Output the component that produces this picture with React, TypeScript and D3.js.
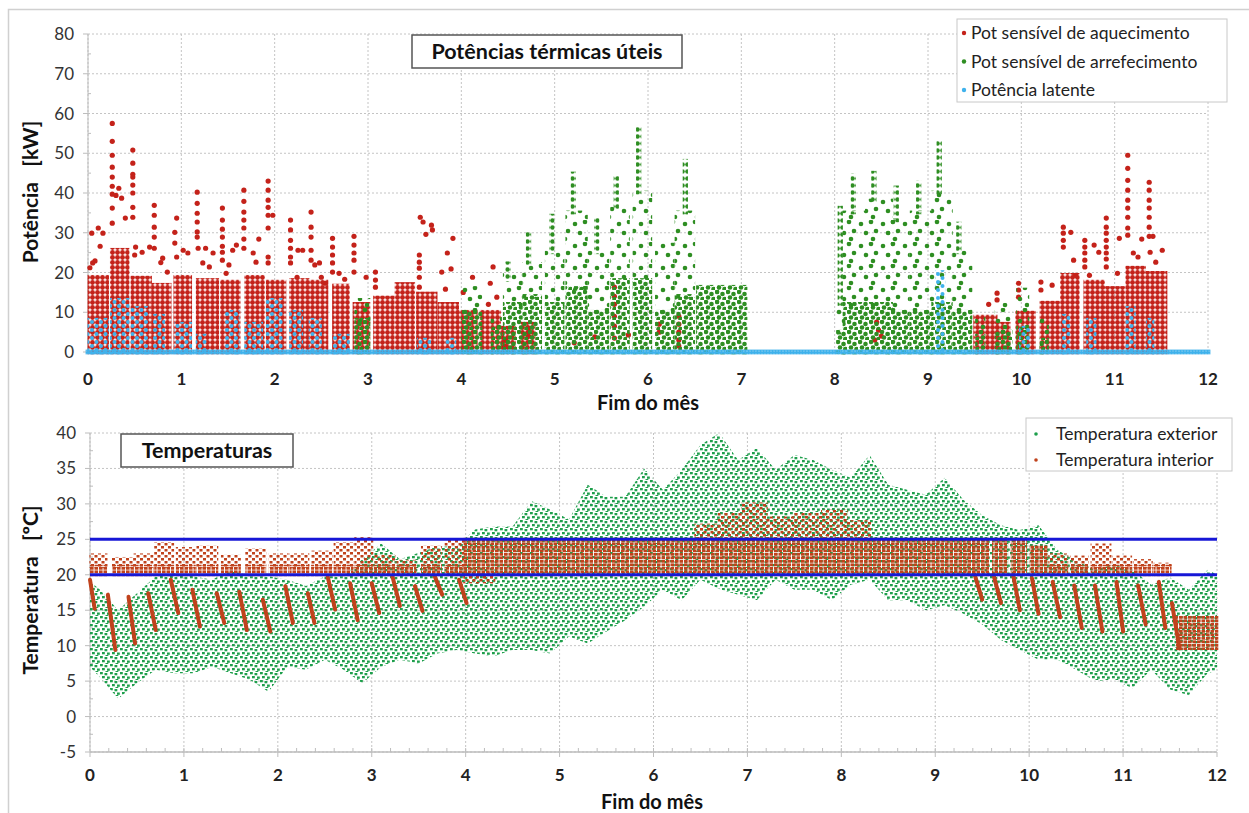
import React from 'react';
import * as d3 from 'd3';

// ---------- shared axes ----------
const monthTicks = [0, 1, 2, 3, 4, 5, 6, 7, 8, 9, 10, 11, 12];
const powerTicks = [0, 10, 20, 30, 40, 50, 60, 70, 80];
const tempTicks = [-5, 0, 5, 10, 15, 20, 25, 30, 35, 40];

// ---------- top chart: potências (kW) ----------
const powerSeries = ['Pot sensível de aquecimento', 'Pot sensível de arrefecimento', 'Potência latente'];

// dense heating clusters: [month start, month end, top kW]
const heatBands = [
  [0.02, 0.2, 18.8], [0.26, 0.42, 25.6], [0.48, 0.66, 18.6], [0.71, 0.87, 16.8], [0.94, 1.09, 18.8],
  [1.18, 1.38, 18], [1.44, 1.61, 17.6], [1.7, 1.87, 18.8], [1.93, 2.1, 17.6], [2.18, 2.35, 18],
  [2.39, 2.55, 17.6], [2.64, 2.78, 16.6], [2.86, 3.0, 12], [3.08, 3.26, 13.6], [3.31, 3.48, 17],
  [3.54, 3.72, 14.6], [3.77, 3.95, 12], [3.99, 4.15, 10], [4.22, 4.4, 10], [4.45, 4.56, 6], [4.66, 4.77, 7],
  [9.51, 9.72, 8.8], [9.74, 9.86, 7], [9.96, 10.13, 9.8], [10.22, 10.39, 12.3], [10.44, 10.6, 19.3],
  [10.69, 10.87, 17.6], [10.91, 11.09, 16], [11.14, 11.31, 21.1], [11.36, 11.54, 19.8],
];

// isolated heating points (start-up peaks etc.)
const heatPeaks = [
  { x: 0.02, ys: [21.2] }, { x: 0.04, ys: [29.9] }, { x: 0.05, ys: [22.4] }, { x: 0.075, ys: [22.9] },
  { x: 0.11, ys: [31.2] }, { x: 0.13, ys: [26.6] }, { x: 0.16, ys: [29.9] },
  { x: 0.26, ys: [57.5, 53, 49.5, 46.5, 44, 41.7, 39.7, 36.2, 32.4] }, { x: 0.3, ys: [39.4] },
  { x: 0.33, ys: [41.2] }, { x: 0.36, ys: [38.7] }, { x: 0.4, ys: [33.7] },
  { x: 0.48, ys: [50.8, 47.5, 44.7, 44, 42, 40, 36.4, 33.9] }, { x: 0.5, ys: [24.4] }, { x: 0.51, ys: [26.4] },
  { x: 0.58, ys: [25.1] }, { x: 0.66, ys: [26.4] },
  { x: 0.71, ys: [36.9, 34.4, 31.4, 28.9, 26.1] }, { x: 0.78, ys: [22.5] }, { x: 0.8, ys: [23.6] }, { x: 0.85, ys: [20.1] },
  { x: 0.93, ys: [30.1, 27.4] }, { x: 0.95, ys: [33.7, 23.9] }, { x: 1.02, ys: [25.6] }, { x: 1.07, ys: [24.9] },
  { x: 1.17, ys: [40.2, 37.4, 34.9, 32.7, 30.2, 28.9] }, { x: 1.18, ys: [26.1] }, { x: 1.23, ys: [22.4] },
  { x: 1.26, ys: [26.1] }, { x: 1.3, ys: [21.4] }, { x: 1.34, ys: [24.9] },
  { x: 1.44, ys: [36.2, 33.2, 30.9, 28.9, 26.6, 25.1, 23.1] }, { x: 1.48, ys: [19.8] }, { x: 1.51, ys: [21.9] },
  { x: 1.55, ys: [25.6] }, { x: 1.59, ys: [26.9] },
  { x: 1.67, ys: [40.7, 37.9, 35.2, 33.2, 31.2, 28.4, 26.1] }, { x: 1.77, ys: [24.9] }, { x: 1.8, ys: [22.6] }, { x: 1.83, ys: [28.4] },
  { x: 1.93, ys: [43, 40.7, 38.2, 36.4, 34.4, 31.2, 23.9, 22.4] }, { x: 1.98, ys: [34.4] },
  { x: 2.17, ys: [33.2, 30.7, 28.1, 26.1, 23.9, 22.4] }, { x: 2.24, ys: [18.8] }, { x: 2.25, ys: [25.6] }, { x: 2.3, ys: [25.6] },
  { x: 2.39, ys: [35.2, 31.4, 28.9, 25.6, 23.1] }, { x: 2.43, ys: [21.9] }, { x: 2.48, ys: [22.4] }, { x: 2.5, ys: [18.8] }, { x: 2.54, ys: [17.3] },
  { x: 2.62, ys: [28.6, 26.4, 24.4, 22.4, 20.1] }, { x: 2.69, ys: [19.8] }, { x: 2.75, ys: [18.3] },
  { x: 2.85, ys: [29.1, 26.9, 24.9, 23.1, 20.1] }, { x: 2.98, ys: [18.8] },
  { x: 3.08, ys: [20.1, 18.1, 16.3] },
  { x: 3.55, ys: [24.4, 22.6, 21.1, 18.8, 16.3] }, { x: 3.56, ys: [33.9] }, { x: 3.59, ys: [32.7] },
  { x: 3.62, ys: [29.6] }, { x: 3.68, ys: [31.9] }, { x: 3.69, ys: [30.7] },
  { x: 3.79, ys: [20.1] }, { x: 3.83, ys: [15.8] }, { x: 3.85, ys: [24.9] }, { x: 3.89, ys: [20.9] }, { x: 3.91, ys: [28.6] },
  { x: 4.02, ys: [15] }, { x: 4.12, ys: [18.8] }, { x: 4.29, ys: [12] }, { x: 4.31, ys: [17.3] }, { x: 4.34, ys: [21.4] }, { x: 4.38, ys: [13.8] },
  { x: 4.47, ys: [3, 1.5] }, { x: 4.72, ys: [6, 4] }, { x: 5.21, ys: [2.3] }, { x: 5.43, ys: [3.8] },
  { x: 5.64, ys: [16.3, 14, 12, 9, 6.5, 3.5] }, { x: 5.79, ys: [4.3] }, { x: 6.12, ys: [7, 5] },
  { x: 6.33, ys: [9, 7, 5, 3, 1.5] },
  { x: 8.43, ys: [3] }, { x: 8.45, ys: [7.5] }, { x: 8.47, ys: [5.5] }, { x: 8.5, ys: [4] },
  { x: 9.65, ys: [12] }, { x: 9.74, ys: [14.8, 13.1] }, { x: 9.97, ys: [17.3, 15.6, 13.8] },
  { x: 10.21, ys: [17.6, 15.6] }, { x: 10.33, ys: [16.8] },
  { x: 10.45, ys: [31.4, 29.9, 28.1, 26.4] }, { x: 10.53, ys: [30.1] }, { x: 10.56, ys: [23.1] }, { x: 10.58, ys: [19.3] },
  { x: 10.68, ys: [28.1, 26.4, 24.9, 23.1, 21.4] }, { x: 10.73, ys: [19.3] }, { x: 10.78, ys: [26.9] }, { x: 10.83, ys: [25.1] },
  { x: 10.91, ys: [33.7, 31.4, 29.9, 28.1, 26.4, 24.9, 23.4, 21.4] }, { x: 11.03, ys: [19.8] }, { x: 11.05, ys: [28.6] },
  { x: 11.14, ys: [49.5, 46.2, 43.2, 40.7, 38.2, 36.2, 33.9, 31.2, 29.4] }, { x: 11.2, ys: [24.9] },
  { x: 11.25, ys: [23.9] }, { x: 11.29, ys: [28.4] },
  { x: 11.37, ys: [42.7, 40.7, 38.2, 36.2, 33.9, 31.4, 29.1] }, { x: 11.38, ys: [25.1] }, { x: 11.41, ys: [29.1] },
  { x: 11.44, ys: [22.6] }, { x: 11.51, ys: [25.6] },
];

// cooling clusters: [month start, month end, dense top kW, scattered top kW]
const coolBands = [
  [2.88, 3.0, 8, 13], [4.02, 4.2, 10, 16], [4.34, 4.41, 6, 9], [4.47, 4.63, 12, 20], [4.68, 4.84, 14, 22],
  [4.92, 5.08, 12, 25], [5.14, 5.33, 16, 35], [5.38, 5.56, 10, 25], [5.62, 5.78, 18, 36],
  [5.86, 6.02, 18, 40], [6.1, 6.26, 10, 26.9], [6.31, 6.48, 14, 35], [6.54, 6.74, 16.3, 16.3],
  [6.77, 7.04, 16.3, 16.3], [8.04, 8.09, 5, 12], [8.11, 8.31, 12, 35], [8.35, 8.6, 12, 38],
  [8.6, 8.78, 10, 33], [8.83, 9.02, 10, 35], [9.06, 9.24, 12, 40], [9.29, 9.45, 10, 25],
  [9.53, 9.59, 4, 8.8], [9.74, 9.88, 5, 11.8], [9.97, 10.06, 6, 15.6], [10.22, 10.27, 3, 8.8],
];
// cooling peak streaks: [month, from kW, to kW]
const coolPeaks = [
  [4.5, 18, 22.4], [4.72, 22, 29.9], [4.97, 25, 34.4], [5.2, 35, 45], [5.45, 25, 33.7], [5.66, 36, 44.2],
  [5.9, 40, 56.5], [6.4, 35, 48.2], [8.06, 12, 36.4], [8.2, 35, 44.5], [8.42, 38, 45.2], [8.66, 33, 41.5],
  [8.9, 35, 42.7], [9.12, 40, 52.8], [9.33, 25, 32.4],
];

// latent clusters: [month start, month end, top kW]
const latentBands = [
  [0.02, 0.2, 8], [0.26, 0.42, 13], [0.48, 0.62, 11], [0.72, 0.8, 9], [0.95, 1.09, 7], [1.18, 1.25, 4],
  [1.49, 1.6, 10], [1.7, 1.85, 7], [1.93, 2.06, 13], [2.18, 2.28, 10], [2.39, 2.48, 8], [2.64, 2.78, 4],
  [3.55, 3.65, 3], [3.85, 3.92, 3], [9.1, 9.16, 20], [10.0, 10.07, 6], [10.45, 10.5, 9], [10.72, 10.78, 8],
  [11.14, 11.2, 11], [11.36, 11.4, 8],
];
const latentZero = [0, 12];

// ---------- bottom chart: temperaturas (ºC) ----------
const tempSeries = ['Temperatura exterior', 'Temperatura interior'];
const setpoints = [20, 25];

const extX = [0, 0.1, 0.3, 0.5, 0.7, 0.9, 1.1, 1.3, 1.5, 1.7, 1.9, 2.1, 2.3, 2.5, 2.7, 2.9, 3.1, 3.3, 3.5, 3.7, 3.9,
  4.1, 4.3, 4.5, 4.7, 4.9, 5.1, 5.3, 5.5, 5.7, 5.9, 6.1, 6.3, 6.5, 6.7, 6.9, 7.1, 7.3, 7.5, 7.7, 7.9,
  8.1, 8.3, 8.5, 8.7, 8.9, 9.1, 9.3, 9.5, 9.7, 9.9, 10.1, 10.3, 10.5, 10.7, 10.9, 11.1, 11.3, 11.5, 11.7, 11.9, 12];
const extHigh = [19, 18, 15, 17.4, 19.8, 20.2, 19.8, 19.3, 20.7, 19.8, 19.8, 19.3, 18.4, 19.8, 19.8, 22.2, 24.4, 22.2, 23.1, 24, 24,
  26.4, 26.8, 26.8, 30.4, 29.2, 27.8, 32.7, 31, 31, 35, 32, 34.8, 38.3, 40, 36.2, 37.9, 34.8, 36.9, 36.2, 34.8,
  33.7, 36.9, 32.7, 32, 31.3, 33.7, 30.6, 28.4, 27, 26.3, 27, 23.5, 22, 20.7, 21.4, 20.7, 18.6, 19.6, 17.9, 20.7, 20];
const extLow = [7, 5.6, 2.5, 4.7, 6.6, 6.1, 6.1, 7, 6.1, 5.2, 3.5, 7, 6.6, 8, 6.6, 4.7, 7, 8, 7.5, 8.9, 9.4,
  8.9, 8.5, 9.4, 9.4, 8.9, 11.3, 10.3, 12, 13.6, 15.5, 17.9, 16.4, 19.3, 18, 17.2, 16.4, 19.3, 17.9, 17.9, 16.4,
  18.6, 19.3, 16.4, 16.4, 15, 15.7, 14.5, 13, 10.8, 9.4, 8, 8, 6.6, 5, 5.2, 4, 6.6, 3.8, 3, 6.1, 6.5];

// weekly heated occupation: [month start, month end, peak ºC]
const intWeekBase = [20, 21.2];
const intWeeks = [
  [0.01, 0.17, 22.8], [0.25, 0.45, 22.3], [0.48, 0.66, 22.8], [0.7, 0.88, 24.4], [0.93, 1.11, 23.7],
  [1.15, 1.35, 23.9], [1.41, 1.59, 22.6], [1.67, 1.86, 23.5], [1.92, 2.1, 22.8], [2.14, 2.32, 22.8],
  [2.37, 2.57, 23.2], [2.61, 2.79, 24.4], [2.83, 3.0, 25.1], [3.04, 3.24, 22.6], [3.28, 3.46, 21.9],
  [3.54, 3.73, 23.9], [3.79, 3.97, 24.9],
  [10.22, 10.4, 22.8], [10.45, 10.62, 22.5], [10.67, 10.86, 24.2], [10.9, 11.08, 22.5], [11.12, 11.3, 22],
  [11.34, 11.5, 21.5],
];
// dense interior blocks: [month start, month end, low ºC, high ºC]
const intBlocks = [
  [3.99, 9.4, 20, 25], [9.42, 9.56, 20, 25], [9.62, 9.76, 20, 25], [9.82, 9.96, 20, 25], [10.02, 10.18, 20, 24],
  [11.58, 12.0, 9.6, 14],
];
// sparse interior excursions: [month start, month end, low, high]
const intHigh = [
  [6.45, 6.7, 25, 27], [6.7, 6.95, 25, 28.5], [6.95, 7.2, 25, 30], [7.2, 7.5, 25, 28], [7.5, 7.8, 25, 28.5],
  [7.8, 8.05, 25, 29], [8.05, 8.3, 25, 27.5], [3.99, 4.3, 19, 20],
];
// weekend cool-down: [month, ºC, month, ºC]
const intDrops = [
  [0.0, 19.3, 0.05, 15.2], [0.19, 17.2, 0.27, 9.4], [0.41, 16.9, 0.48, 10.3], [0.62, 17.4, 0.7, 12.2],
  [0.86, 19.3, 0.94, 14.6], [1.09, 17.9, 1.17, 12.7], [1.35, 17.4, 1.43, 13.2], [1.59, 17.6, 1.67, 12.2],
  [1.84, 16.5, 1.92, 12.0], [2.08, 18.4, 2.16, 13.2], [2.32, 17.4, 2.39, 13.2], [2.53, 19.8, 2.61, 15.1],
  [2.77, 18.8, 2.85, 13.6], [3.0, 18.8, 3.08, 14.6], [3.22, 19.8, 3.3, 15.6], [3.46, 18.4, 3.54, 14.9],
  [3.67, 19.8, 3.75, 17.2], [3.93, 19.3, 4.01, 16.0],
  [9.42, 20, 9.5, 16.5], [9.62, 20, 9.7, 16], [9.83, 20, 9.9, 15], [10.03, 19.5, 10.1, 14.5],
  [10.25, 19, 10.33, 14], [10.48, 18.5, 10.56, 12.5], [10.7, 18.5, 10.78, 12], [10.93, 19, 11.0, 12],
  [11.16, 18.5, 11.24, 13], [11.38, 19, 11.45, 12.5], [11.52, 16, 11.6, 9.6],
];

const FONT = 'Lato, "Open Sans", sans-serif';
const RED = '#c4221a';
const GREEN = '#2e8e22';
const CYAN = '#3fb2ec';
const EXT = '#1e9f4c';
const INT = '#c0421c';
const GRID = '#c4c4c4';
const AXIS = '#bdbdbd';

export default function App() {
  const xT = d3.scaleLinear().domain([0, 12]).range([88, 1208]);
  const yT = d3.scaleLinear().domain([0, 80]).range([352, 34]);
  const xB = d3.scaleLinear().domain([0, 12]).range([90, 1217]);
  const yB = d3.scaleLinear().domain([-5, 40]).range([752, 433]);

  const box = (x: any, y: any, x0: number, x1: number, lo: number, hi: number, fill: string, key: string, pad = 2.3) => (
    <rect key={key} x={x(x0) - pad} width={x(x1) - x(x0) + 2 * pad} y={y(hi) - pad}
      height={y(lo) - y(hi) + 2 * pad} fill={fill} />
  );

  const extArea = d3.area<number>()
    .x((d) => xB(d))
    .y0((d, i) => yB(extLow[i]))
    .y1((d, i) => yB(extHigh[i]))(extX) || '';

  const grid = (x: any, y: any, yt: number[]) => (
    <g>
      {yt.map((t) => (
        <line key={'h' + t} x1={x(0)} x2={x(12)} y1={y(t)} y2={y(t)} stroke={GRID} strokeDasharray="2 2" />
      ))}
      {monthTicks.map((m) => (
        <line key={'v' + m} x1={x(m)} x2={x(m)} y1={y(yt[yt.length - 1])} y2={y(yt[0])} stroke={GRID} strokeDasharray="2 2" />
      ))}
    </g>
  );

  const minorT = d3.range(5, 80, 10);
  const minorB = d3.range(-2.5, 40, 5);
  const minorX = d3.range(0.2, 12, 0.2);

  return (
    <div style={{ position: 'absolute', left: 0, top: 0 }}>
      <svg width={1249} height={813} style={{ display: 'block', background: '#fff', fontFamily: FONT }}>
        <defs>
          <pattern id="pHeat" width="5" height="5" patternUnits="userSpaceOnUse">
            <circle cx="2.5" cy="2.5" r="2.45" fill={RED} />
          </pattern>
          <pattern id="pCool" width="22" height="22" patternUnits="userSpaceOnUse">
            <circle cx="3" cy="4" r="2.3" fill={GREEN} />
            <circle cx="13" cy="2" r="2.3" fill={GREEN} />
            <circle cx="18" cy="11" r="2.3" fill={GREEN} />
            <circle cx="8" cy="13" r="2.3" fill={GREEN} />
            <circle cx="15" cy="19" r="2.3" fill={GREEN} />
          </pattern>
          <pattern id="pCoolDense" width="11" height="10" patternUnits="userSpaceOnUse">
            <circle cx="2" cy="2" r="2.3" fill={GREEN} />
            <circle cx="7.5" cy="4" r="2.3" fill={GREEN} />
            <circle cx="4" cy="7.5" r="2.3" fill={GREEN} />
            <circle cx="9.5" cy="9" r="2.3" fill={GREEN} />
          </pattern>
          <pattern id="pCoolStreak" width="5" height="7" patternUnits="userSpaceOnUse">
            <circle cx="2.5" cy="3.5" r="2.3" fill={GREEN} />
          </pattern>
          <pattern id="pLatent" width="9" height="8" patternUnits="userSpaceOnUse">
            <circle cx="2" cy="2" r="2" fill={CYAN} />
            <circle cx="6.5" cy="6" r="2" fill={CYAN} />
          </pattern>
          <pattern id="pLatentDense" width="3" height="3" patternUnits="userSpaceOnUse">
            <circle cx="1.5" cy="1.5" r="1.7" fill={CYAN} />
          </pattern>
          <pattern id="pExt" width="10" height="8" patternUnits="userSpaceOnUse">
            <rect x="0" y="0" width="2.8" height="2.3" fill={EXT} />
            <rect x="4.5" y="1" width="2.8" height="2.3" fill={EXT} />
            <rect x="2" y="4" width="2.8" height="2.3" fill={EXT} />
            <rect x="7" y="4.5" width="2.8" height="2.3" fill={EXT} />
            <rect x="5.5" y="7" width="2.8" height="1" fill={EXT} />
          </pattern>
          <pattern id="pInt" width="4.5" height="3.5" patternUnits="userSpaceOnUse">
            <rect x="0" y="0" width="3.6" height="2.8" fill={INT} />
          </pattern>
          <pattern id="pIntSparse" width="7" height="6" patternUnits="userSpaceOnUse">
            <rect x="0" y="0" width="3" height="2.5" fill={INT} />
            <rect x="3.5" y="3" width="3" height="2.5" fill={INT} />
          </pattern>
        </defs>

        {/* frame */}
        <rect x={8.5} y={9.5} width={1260} height={820} fill="none" stroke="#d0d0d0" strokeWidth={1.5} />

        {/* ===== top chart ===== */}
        {grid(xT, yT, powerTicks)}
        <line x1={xT(0)} x2={xT(0)} y1={yT(80)} y2={yT(0)} stroke={AXIS} />
        {powerTicks.map((t) => (
          <g key={'pt' + t}>
            <line x1={xT(0) - 5} x2={xT(0)} y1={yT(t)} y2={yT(t)} stroke={AXIS} />
            <text x={74} y={yT(t) + 6} textAnchor="end" fontSize={17} fill="#333">{t}</text>
          </g>
        ))}
        {minorT.map((t) => (
          <line key={'pm' + t} x1={xT(0)} x2={xT(0) + 3} y1={yT(t)} y2={yT(t)} stroke={AXIS} />
        ))}
        {monthTicks.map((m) => (
          <text key={'px' + m} x={xT(m)} y={385} textAnchor="middle" fontSize={17} fontWeight={700} fill="#222">{m}</text>
        ))}
        <text x={648} y={410} textAnchor="middle" fontSize={20} fontWeight={700} fill="#111">Fim do mês</text>
        <text transform="translate(38,192) rotate(-90)" textAnchor="middle" fontSize={21} fontWeight={700} fill="#111"
          style={{ whiteSpace: 'pre' }}>
          {'Potência   [kW]'}
        </text>

        <g>
          {heatBands.map((b, i) => box(xT, yT, b[0], b[1], 0, b[2], 'url(#pHeat)', 'hb' + i))}
          {heatPeaks.flatMap((p, i) => p.ys.map((v, j) => (
            <circle key={'hp' + i + '_' + j} cx={xT(p.x)} cy={yT(v)} r={2.6} fill={RED} />
          )))}
        </g>
        <g>
          {coolBands.map((b, i) => (
            <g key={'cb' + i}>
              {box(xT, yT, b[0], b[1], 0, b[2], 'url(#pCoolDense)', 'cd' + i)}
              {b[3] > b[2] && box(xT, yT, b[0], b[1], b[2], b[3], 'url(#pCool)', 'cs' + i)}
            </g>
          ))}
          {coolPeaks.map((p, i) => box(xT, yT, p[0] - 0.012, p[0] + 0.012, p[1], p[2], 'url(#pCoolStreak)', 'cp' + i, 1.5))}
        </g>
        <g>
          {latentBands.map((b, i) => box(xT, yT, b[0], b[1], 0, b[2], 'url(#pLatent)', 'lb' + i))}
          {box(xT, yT, latentZero[0], latentZero[1], 0, 0, 'url(#pLatentDense)', 'lz', 2.4)}
        </g>

        {/* title + legend */}
        <rect x={412} y={35} width={270} height={33} fill="#fff" stroke="#555" strokeWidth={1.5} />
        <text x={547} y={59} textAnchor="middle" fontSize={21.5} fontWeight={700} fill="#111">Potências térmicas úteis</text>
        <rect x={957} y={19} width={270} height={83} fill="#fff" stroke="#c8c8c8" />
        {powerSeries.map((s, i) => (
          <g key={'lg' + i}>
            <circle cx={964} cy={33 + i * 28.5} r={2.2} fill={[RED, GREEN, CYAN][i]} />
            <text x={971} y={39 + i * 28.5} fontSize={17.5} fill="#222">{s}</text>
          </g>
        ))}

        {/* ===== bottom chart ===== */}
        {grid(xB, yB, tempTicks)}
        <line x1={xB(0)} x2={xB(0)} y1={yB(40)} y2={yB(-5)} stroke={AXIS} />
        <line x1={xB(0)} x2={xB(12)} y1={yB(-5)} y2={yB(-5)} stroke={AXIS} strokeWidth={1.5} />
        {tempTicks.map((t) => (
          <g key={'tt' + t}>
            <line x1={xB(0) - 5} x2={xB(0)} y1={yB(t)} y2={yB(t)} stroke={AXIS} />
            <text x={76} y={yB(t) + 6} textAnchor="end" fontSize={17} fill="#333">{t}</text>
          </g>
        ))}
        {minorB.map((t) => (
          <line key={'tm' + t} x1={xB(0)} x2={xB(0) + 3} y1={yB(t)} y2={yB(t)} stroke={AXIS} />
        ))}
        {minorX.map((m) => (
          <line key={'xm' + m.toFixed(1)} x1={xB(m)} x2={xB(m)} y1={yB(-5) - 4} y2={yB(-5)} stroke={AXIS} />
        ))}
        {monthTicks.map((m) => (
          <g key={'bx' + m}>
            <line x1={xB(m)} x2={xB(m)} y1={yB(-5)} y2={yB(-5) + 5} stroke={AXIS} />
            <text x={xB(m)} y={781} textAnchor="middle" fontSize={17} fontWeight={700} fill="#222">{m}</text>
          </g>
        ))}
        <text x={652} y={809} textAnchor="middle" fontSize={20} fontWeight={700} fill="#111">Fim do mês</text>
        <text transform="translate(38,590) rotate(-90)" textAnchor="middle" fontSize={21} fontWeight={700} fill="#111"
          style={{ whiteSpace: 'pre' }}>
          {'Temperatura   [ºC]'}
        </text>

        <path d={extArea} fill="url(#pExt)" />
        <g>
          {intWeeks.map((w, i) => (
            <g key={'iw' + i}>
              {box(xB, yB, w[0], w[1], intWeekBase[1], w[2], 'url(#pIntSparse)', 'iws' + i, 1.5)}
              {box(xB, yB, w[0], w[1], intWeekBase[0], intWeekBase[1], 'url(#pInt)', 'iwd' + i, 1.5)}
            </g>
          ))}
          {intBlocks.map((b, i) => box(xB, yB, b[0], b[1], b[2], b[3], 'url(#pInt)', 'ib' + i, 1.5))}
          {intHigh.map((b, i) => box(xB, yB, b[0], b[1], b[2], b[3], 'url(#pIntSparse)', 'ih' + i, 1.5))}
          {intDrops.map((d, i) => (
            <line key={'id' + i} x1={xB(d[0])} y1={yB(d[1])} x2={xB(d[2])} y2={yB(d[3])}
              stroke={INT} strokeWidth={4} strokeLinecap="round" />
          ))}
        </g>
        {setpoints.map((s) => (
          <line key={'sp' + s} x1={xB(0)} x2={xB(12)} y1={yB(s)} y2={yB(s)} stroke="#1717d6" strokeWidth={3} />
        ))}

        <rect x={121} y={434} width={172} height={33} fill="#fff" stroke="#555" strokeWidth={1.5} />
        <text x={207} y={458} textAnchor="middle" fontSize={21.5} fontWeight={700} fill="#111">Temperaturas</text>
        <rect x={1026} y={418} width={206} height={53} fill="#fff" stroke="#c8c8c8" />
        {tempSeries.map((s, i) => (
          <g key={'tl' + i}>
            <circle cx={1036} cy={434 + i * 26} r={1.8} fill={[EXT, INT][i]} />
            <text x={1056} y={440 + i * 26} fontSize={17.5} fill="#222">{s}</text>
          </g>
        ))}
      </svg>
    </div>
  );
}
